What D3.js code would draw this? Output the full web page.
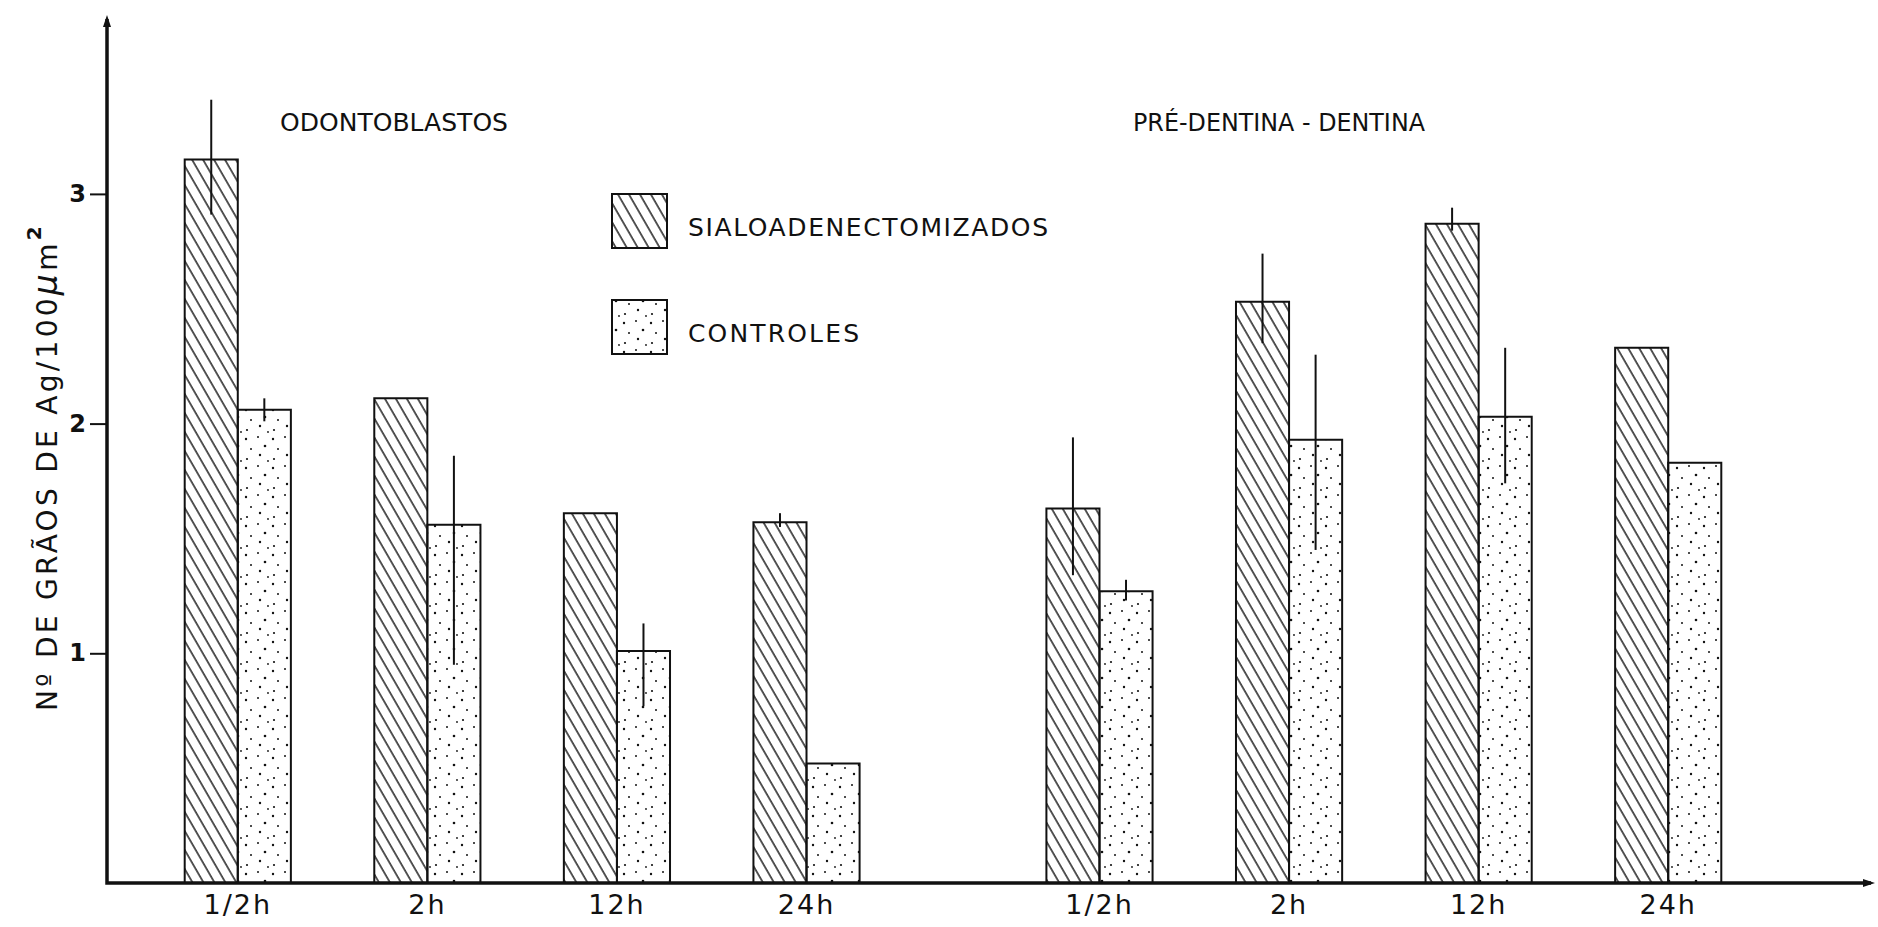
<!DOCTYPE html>
<html>
<head>
<meta charset="utf-8">
<script src="https://cdn.jsdelivr.net/npm/d3@7"></script>
<style>
  body { margin: 0; background: #fff; }
  svg { display: block; }
  text { font-family: "DejaVu Sans", sans-serif; fill: #111; }
</style>
</head>
<body>
<svg id="chart"></svg>
<script>
// data
const groups = ["ODONTOBLASTOS", "PRÉ-DENTINA - DENTINA"];
const times = ["1/2h", "2h", "12h", "24h"];
const series = ["SIALOADENECTOMIZADOS", "CONTROLES"];

const sialoOdonto = [3.15, 2.11, 1.61, 1.57];
const controlOdonto = [2.06, 1.56, 1.01, 0.52];
const sialoDentina = [1.63, 2.53, 2.87, 2.33];
const controlDentina = [1.27, 1.93, 2.03, 1.83];

// error lines as [low, high] ends, null = no line
const sialoOdontoErr = [[2.91, 3.41], null, null, [1.55, 1.61]];
const controlOdontoErr = [[2.01, 2.11], [0.95, 1.86], [0.77, 1.13], null];
const sialoDentinaErr = [[1.34, 1.94], [2.35, 2.74], [2.84, 2.94], null];
const controlDentinaErr = [[1.23, 1.32], [1.45, 2.30], [1.74, 2.33], null];

const yTicks = [1, 2, 3];

const W = 1878, H = 927;
const x0 = 107, yBase = 883, yTop = 15, xEnd = 1875;

const svg = d3.select("#chart").attr("width", W).attr("height", H);

// patterns
const defs = svg.append("defs");
const hatch = defs.append("pattern")
    .attr("id", "hatch")
    .attr("patternUnits", "userSpaceOnUse")
    .attr("width", 9.5).attr("height", 20)
    .attr("patternTransform", "rotate(-30)");
hatch.append("line")
    .attr("x1", 1).attr("y1", -2).attr("x2", 1).attr("y2", 22)
    .attr("stroke", "#111").attr("stroke-width", 1.4);

const dots = defs.append("pattern")
    .attr("id", "dots")
    .attr("patternUnits", "userSpaceOnUse")
    .attr("width", 27).attr("height", 29);
[[3, 4, 1.2], [15, 2, 1], [22, 11, 1.3], [8, 14, 1], [17, 20, 1.2], [4, 24, 1.1], [25, 26, 0.9]]
    .forEach(d => dots.append("circle").attr("cx", d[0]).attr("cy", d[1]).attr("r", d[2]).attr("fill", "#111"));

const fills = { "SIALOADENECTOMIZADOS": "url(#hatch)", "CONTROLES": "url(#dots)" };

// scales
const xGroup = d3.scaleBand().domain(groups).range([143, 1763]).paddingInner(0.12);
const xTime = d3.scaleBand().domain(times).range([0, xGroup.bandwidth()])
    .paddingInner(0.44).paddingOuter(0.22);
const xSeries = d3.scaleBand().domain(series).range([0, xTime.bandwidth()]);
const y = d3.scaleLinear().domain([0, (yBase - yTop) / 229.7]).range([yBase, yTop]);

const table = [
    { g: groups[0], s: series[0], v: sialoOdonto, e: sialoOdontoErr },
    { g: groups[0], s: series[1], v: controlOdonto, e: controlOdontoErr },
    { g: groups[1], s: series[0], v: sialoDentina, e: sialoDentinaErr },
    { g: groups[1], s: series[1], v: controlDentina, e: controlDentinaErr }
];
const bars = [];
table.forEach(t => times.forEach((tm, i) => bars.push({ group: t.g, series: t.s, time: tm, value: t.v[i], err: t.e[i] })));

const barX = d => xGroup(d.group) + xTime(d.time) + xSeries(d.series);

// bars
svg.append("g").selectAll("path")
    .data(bars)
    .join("path")
    .attr("d", d => {
        const l = barX(d), r = l + xSeries.bandwidth(), t = y(d.value);
        return `M${l},${yBase}V${t}H${r}V${yBase}Z`;
    })
    .attr("fill", d => fills[d.series])
    .attr("stroke", "#111")
    .attr("stroke-width", 2);

// error lines
svg.append("g").selectAll("line")
    .data(bars.filter(d => d.err))
    .join("line")
    .attr("x1", d => barX(d) + xSeries.bandwidth() / 2)
    .attr("x2", d => barX(d) + xSeries.bandwidth() / 2)
    .attr("y1", d => y(d.err[1]))
    .attr("y2", d => y(d.err[0]))
    .attr("stroke", "#111")
    .attr("stroke-width", 2);

// axes lines with small arrow heads
svg.append("path")
    .attr("d", `M${x0},${yTop + 4}V${yBase}H${xEnd - 4}`)
    .attr("fill", "none").attr("stroke", "#111").attr("stroke-width", 3.5);
svg.append("path")
    .attr("d", `M${x0 - 4},${yTop + 12}L${x0},${yTop}L${x0 + 4},${yTop + 12}Z`)
    .attr("fill", "#111");
svg.append("path")
    .attr("d", `M${xEnd - 12},${yBase - 4}L${xEnd},${yBase}L${xEnd - 12},${yBase + 4}Z`)
    .attr("fill", "#111");

// y axis ticks
const yAxis = svg.append("g")
    .attr("transform", `translate(${x0},0)`)
    .call(d3.axisLeft(y).tickValues(yTicks).tickFormat(d3.format("d")).tickSize(17).tickPadding(4));
yAxis.select(".domain").remove();
yAxis.selectAll(".tick line").attr("stroke", "#111").attr("stroke-width", 2);
yAxis.selectAll(".tick text")
    .attr("font-size", 24).attr("font-weight", "bold")
    .style("font-family", "DejaVu Sans");

// x labels, one axis per group
groups.forEach(g => {
    const ax = svg.append("g")
        .attr("transform", `translate(${xGroup(g)},${yBase})`)
        .call(d3.axisBottom(xTime).tickSize(0).tickPadding(12));
    ax.select(".domain").remove();
    ax.selectAll(".tick text")
        .attr("font-size", 27)
        .attr("letter-spacing", 2)
        .style("font-family", "DejaVu Sans");
});

// group titles
svg.append("text").attr("x", 280).attr("y", 131)
    .attr("font-size", 25).attr("textLength", 228).attr("lengthAdjust", "spacingAndGlyphs")
    .text(groups[0]);
svg.append("text").attr("x", 1133).attr("y", 131)
    .attr("font-size", 25).attr("textLength", 292).attr("lengthAdjust", "spacingAndGlyphs")
    .text(groups[1]);

// legend
const legend = svg.append("g");
series.forEach((s, i) => {
    const top = 194 + i * 106;
    legend.append("rect")
        .attr("x", 612).attr("y", top).attr("width", 55).attr("height", 54)
        .attr("fill", fills[s]).attr("stroke", "#111").attr("stroke-width", 2);
    legend.append("text")
        .attr("x", 688).attr("y", top + 42)
        .attr("font-size", 25)
        .attr("textLength", i === 0 ? 360 : 171).attr("lengthAdjust", "spacing")
        .text(s);
});

// y axis title
const yt = svg.append("text")
    .attr("transform", "translate(57,467) rotate(-90)")
    .attr("text-anchor", "middle")
    .attr("font-size", 28)
    .attr("letter-spacing", 3.3);
yt.append("tspan").text("Nº DE GRÃOS DE Ag/100");
yt.append("tspan").attr("font-style", "italic").attr("font-size", 33).text("μ");
yt.append("tspan").text("m");
yt.append("tspan").attr("dy", -16).attr("font-size", 20).attr("font-weight", "bold").text("2");
</script>
</body>
</html>
